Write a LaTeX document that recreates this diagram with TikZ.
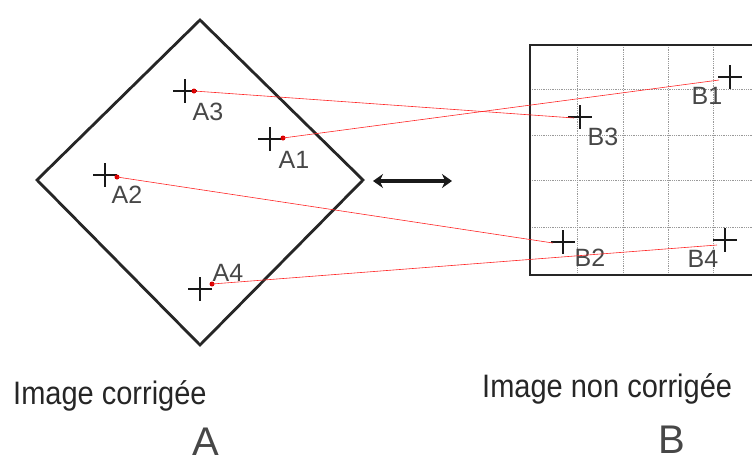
\documentclass[tikz,border=0pt]{standalone}
\usepackage{fontspec}
\setmainfont{Liberation Sans}
\usetikzlibrary{arrows.meta}
\tikzset{
  plusmark/.pic={\draw[crossline] (-12,0)--(12,0) (0,-12)--(0,12);},
  crossline/.style={line width=1.7pt, draw=black!90},
  frame/.style={line width=2.8pt, draw=black!85},
  gridline/.style={densely dotted, draw=black!40, line width=0.8pt},
  link/.style={draw=red!85, line width=0.6pt},
  reddot/.style={circle, fill=red!85!black, inner sep=0pt, minimum size=5pt},
  lbl/.style={text=black!72, font=\fontsize{25}{30}\selectfont, inner sep=0pt},
  caption/.style={font=\fontsize{29}{36}\selectfont, inner sep=0pt, text=black!85},
  bigletter/.style={font=\fontsize{40}{48}\selectfont, inner sep=0pt, text=black!72}
}
\begin{document}
\begin{tikzpicture}[x=1pt,y=-1pt]
\useasboundingbox (0,0) rectangle (752,464);

% ---- A : diamond ----
\coordinate (dT) at (200,20);
\coordinate (dR) at (363,180);
\coordinate (dB) at (200,345);
\coordinate (dL) at (37,180);
\draw[frame] (dT) -- (dR) -- (dB) -- (dL) -- cycle;

% ---- B : grid rectangle ----
\begin{scope}
\clip (530,45) rectangle (752,275);
\foreach \gx in {577,623,668,713}
  \draw[gridline] (\gx,45) -- (\gx,275);
\foreach \gy in {89,135,180,227}
  \draw[gridline] (530,\gy) -- (752,\gy);
\end{scope}
\draw[frame] (760,45) -- (530,45) -- (530,275) -- (760,275);

% ---- crosses in A ----
\pic at (185,91) {plusmark};
\pic at (270,139) {plusmark};
\pic at (105,175) {plusmark};
\pic at (200,289) {plusmark};
\node[reddot] (a3) at (194,91) {};
\node[reddot] (a1) at (283,138) {};
\node[reddot] (a2) at (117,177) {};
\node[reddot] (a4) at (212,284) {};
\node[lbl] (la3) at (208,112) {A3};
\node[lbl] (la1) at (294,160) {A1};
\node[lbl] (la2) at (127,195) {A2};
\node[lbl] (la4) at (228,273) {A4};

% ---- crosses in B ----
\pic at (730,77) {plusmark};
\pic at (580,117) {plusmark};
\pic at (563,242) {plusmark};
\pic at (725,240) {plusmark};
\coordinate (b1) at (719,80);
\coordinate (b3) at (574,118);
\coordinate (b2) at (553,243);
\coordinate (b4) at (717,245);
\node[lbl] (lb1) at (707,96) {B1};
\node[lbl] (lb3) at (603,137) {B3};
\node[lbl] (lb2) at (590,258) {B2};
\node[lbl] (lb4) at (703,259) {B4};

% ---- red links ----
\draw[link] (a3.center) -- (b3);
\draw[link] (a1.center) -- (b1);
\draw[link] (a2.center) -- (b2);
\draw[link] (a4.center) -- (b4);

% ---- double arrow ----
\coordinate (arL) at (373,181);
\coordinate (arR) at (452,181);
\draw[line width=3.5pt, black!90, {Stealth[length=10pt,width=14pt]}-{Stealth[length=10pt,width=14pt]}] (arL) -- (arR);

% ---- captions ----
\node[caption, anchor=base west] (capA) at (13,404) {\scalebox{1}[1.12]{Image corrigée}};
\node[caption, anchor=base west] (capB) at (482,397) {\scalebox{1}[1.12]{Image non corrigée}};
\node[bigletter] (lA) at (206,442) {A};
\node[bigletter] (lB) at (672,440) {B};
\end{tikzpicture}
\end{document}
